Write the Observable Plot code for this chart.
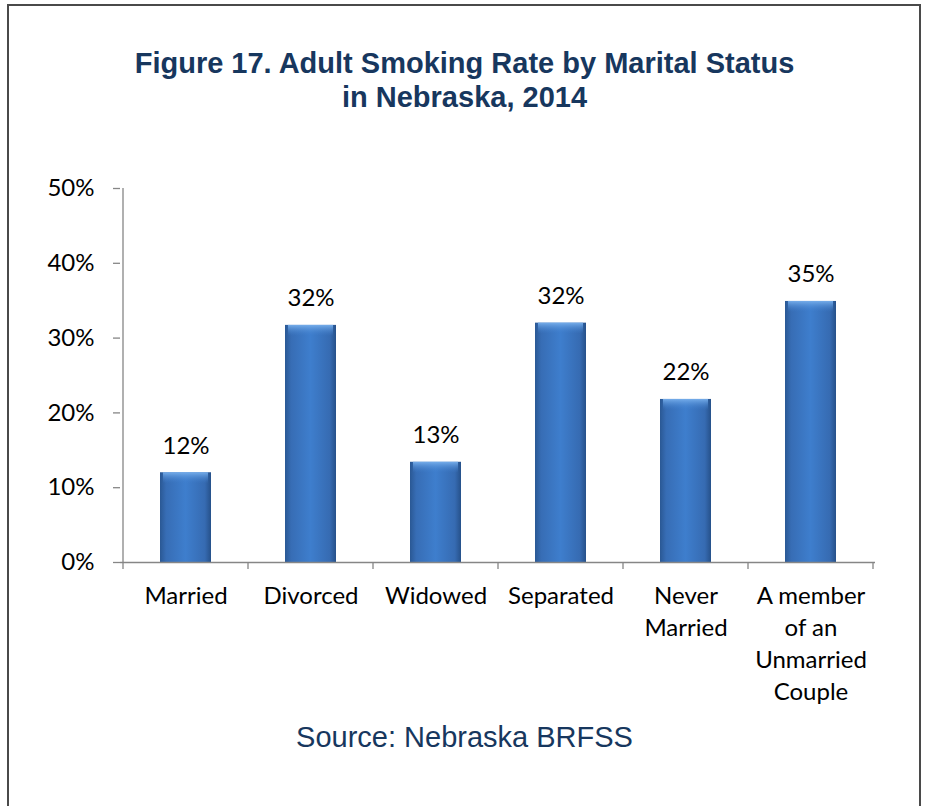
<!DOCTYPE html>
<html>
<head>
<meta charset="utf-8">
<script src="https://cdn.jsdelivr.net/npm/d3@7"></script>
<script src="https://cdn.jsdelivr.net/npm/@observablehq/plot@0.6"></script>
<style>
html, body { margin: 0; padding: 0; background: #fff; overflow: hidden; width: 925px; height: 806px; }
#frame { position: absolute; left: 7px; top: 4px; width: 914px; height: 850px; box-sizing: border-box; border: 2px solid #4a4a4a; }
#title { position: absolute; left: 0; top: 46px; width: 929px; text-align: center; font: bold 29px/34px "Liberation Sans", Arial, sans-serif; color: #17375E; }
#chart { position: absolute; left: 0; top: 150px; }
#source { position: absolute; left: 0; top: 720px; width: 929px; text-align: center; font: 29px/34px "Liberation Sans", Arial, sans-serif; color: #17375E; }
</style>
</head>
<body>
<div id="frame"></div>
<div id="title">Figure 17. Adult Smoking Rate by Marital Status<br>in Nebraska, 2014</div>
<div id="chart"></div>
<div id="source">Source: Nebraska BRFSS</div>
<script>
const categories = ["Married", "Divorced", "Widowed", "Separated", "Never Married", "A member of an Unmarried Couple"];
const tickLabels = ["Married", "Divorced", "Widowed", "Separated", "Never\nMarried", "A member\nof an\nUnmarried\nCouple"];
const rates = [12.0, 31.7, 13.4, 32.0, 21.8, 34.9];
const yTicks = [0, 10, 20, 30, 40, 50];

const data = categories.map((c, i) => ({category: c, label: tickLabels[i], rate: rates[i]}));

const defsMark = () => {
  const defs = d3.create("svg:defs");
  const g1 = defs.append("linearGradient").attr("id", "barGrad")
    .attr("x1", 0).attr("x2", 1).attr("y1", 0).attr("y2", 0);
  [["0%", "#2a5894"], ["12%", "#376db5"], ["50%", "#3e7ecd"], ["88%", "#366bb2"], ["100%", "#26518a"]]
    .forEach(([o, c]) => g1.append("stop").attr("offset", o).attr("stop-color", c));
  const g2 = defs.append("linearGradient").attr("id", "bevelGrad")
    .attr("x1", 0).attr("x2", 0).attr("y1", 0).attr("y2", 1);
  [["0%", "#79b0ec", 0.95], ["100%", "#3e7ecd", 0]]
    .forEach(([o, c, op]) => g2.append("stop").attr("offset", o).attr("stop-color", c).attr("stop-opacity", op));
  return defs.node();
};

const axisFrameMark = (index, scales) => {
  const {x, y} = scales;
  const step = x(categories[1]) - x(categories[0]);
  const bw = typeof x.bandwidth === "function" ? x.bandwidth() : x.bandwidth;
  const bounds = categories.map(c => x(c) + bw / 2 - step / 2);
  bounds.push(x(categories[categories.length - 1]) + bw / 2 + step / 2);
  const g = d3.create("svg:g").attr("stroke", "#868686").attr("stroke-width", 1.3);
  g.append("line").attr("x1", bounds[0]).attr("x2", bounds[0]).attr("y1", y(yTicks[yTicks.length - 1])).attr("y2", y(0));
  for (const b of bounds) {
    g.append("line").attr("x1", b).attr("x2", b).attr("y1", y(0)).attr("y2", y(0) + 7);
  }
  return g.node();
};

const chart = Plot.plot({
  width: 925,
  height: 570,
  marginTop: 38,
  marginBottom: 158,
  marginLeft: 120,
  marginRight: 50,
  style: {fontFamily: "Lato, 'Open Sans', sans-serif", fontSize: "24px", color: "#000", background: "transparent", overflow: "visible"},
  x: {domain: categories, paddingInner: 0.595, paddingOuter: 0.2975, axis: null},
  y: {domain: [0, 50], axis: null},
  marks: [
    defsMark,
    Plot.axisY({ticks: yTicks, tickFormat: d => d + "%", tickSize: 7, tickPadding: 19, stroke: "#868686", strokeWidth: 1.3, fontSize: 24, label: null}),
    Plot.barY(data, {x: "category", y: "rate", fill: "url(#barGrad)"}),
    Plot.barY(data, {x: "category", y1: "rate", y2: "rate", insetBottom: -11, insetLeft: 3, insetRight: 3, fill: "url(#bevelGrad)"}),
    Plot.ruleY([0], {stroke: "#868686", strokeWidth: 1.3}),
    axisFrameMark,
    Plot.text(data, {x: "category", y: "rate", text: d => Math.round(d.rate) + "%", lineAnchor: "bottom", dy: -19, fontSize: 24, fill: "#000"}),
    Plot.text(data, {x: "category", text: "label", frameAnchor: "bottom", lineAnchor: "top", lineHeight: 1.333, dy: 19, fontSize: 24, fill: "#000"})
  ]
});
document.getElementById("chart").appendChild(chart);
</script>
</body>
</html>
